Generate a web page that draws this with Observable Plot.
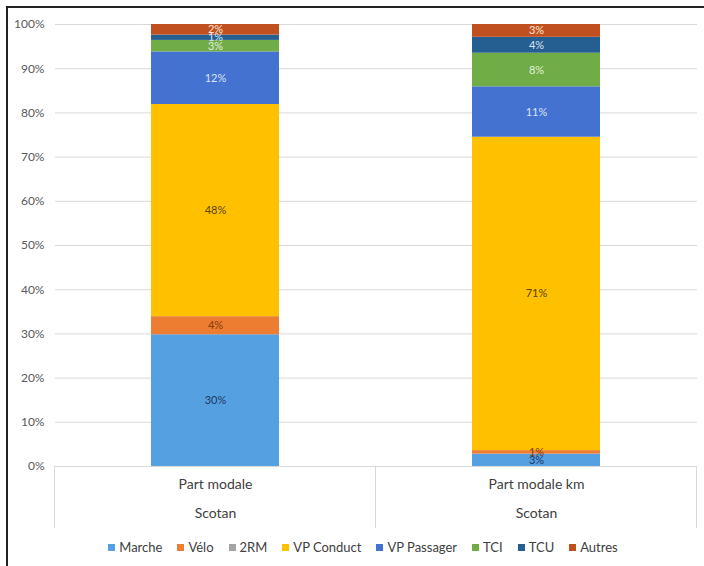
<!DOCTYPE html>
<html>
<head>
<meta charset="utf-8">
<script src="https://cdn.jsdelivr.net/npm/d3@7"></script>
<script src="https://cdn.jsdelivr.net/npm/@observablehq/plot@0.6"></script>
<style>
  body { margin: 0; background: #fff; }
  #wrap { position: relative; width: 704px; height: 566px; overflow: hidden; font-family: Lato, "Open Sans", sans-serif; }
  #frame { position: absolute; left: 6px; top: 6px; right: 0; bottom: 0; border-left: 2px solid #222; border-top: 2px solid #222; pointer-events: none; }
  #legend { position: absolute; left: 0; top: 539px; width: 704px; display: flex; justify-content: center; gap: 15px; font-size: 13px; color: #404040; padding-left: 22px; box-sizing: border-box; }
  #legend span.item { display: flex; align-items: center; gap: 4px; }
  #legend span.sw { display: inline-block; width: 7px; height: 7px; }
</style>
</head>
<body>
<div id="wrap">
  <div id="chart"></div>
  <div id="legend"></div>
  <div id="frame"></div>
</div>
<script>
const categories = ["Part modale", "Part modale km"];
const group = "Scotan";
const modes = ["Marche", "Vélo", "2RM", "VP Conduct", "VP Passager", "TCI", "TCU", "Autres"];
const colors = ["#55a0e0", "#ed7d31", "#a5a5a5", "#ffc000", "#4472d0", "#70ad47", "#255e91", "#c0501f"];
const labelColors = ["#1f3864", "#843c0c", "#404040", "#5a4300", "#dae3f3", "#e2efda", "#dae3f3", "#fbe5d6"];
const partModale = [29.8, 4.1, 0.0, 48.0, 11.9, 2.6, 1.2, 2.4];
const partModaleKm = [2.8, 0.8, 0.0, 70.9, 11.4, 7.6, 3.6, 2.9];
const yTicks = [0, 10, 20, 30, 40, 50, 60, 70, 80, 90, 100];

const series = [partModale, partModaleKm];
const data = [];
categories.forEach((c, ci) => modes.forEach((m, mi) => data.push({cat: c, mode: m, mi, value: series[ci][mi]})));

const chart = Plot.plot({
  width: 704,
  height: 530,
  marginLeft: 55,
  marginRight: 7,
  marginTop: 24,
  marginBottom: 64,
  style: {fontFamily: "Lato, 'Open Sans', sans-serif", background: "transparent"},
  x: {domain: categories, paddingInner: 0.6, paddingOuter: 0.3, label: null},
  y: {domain: [0, 100], label: null},
  color: {type: "identity"},
  marks: [
    Plot.gridY(yTicks, {stroke: "#d9d9d9", strokeOpacity: 1}),
    Plot.axisY(yTicks, {tickSize: 0, tickPadding: 11, tickFormat: d => d + "%", fontSize: 12, fill: "#595959", label: null}),
    Plot.barY(data, {x: "cat", y: "value", fill: d => colors[d.mi], order: null}),
    Plot.text(data, Plot.stackY({x: "cat", y: "value", order: null, text: d => d.value >= 0.5 ? Math.round(d.value) + "%" : "", fill: d => labelColors[d.mi], fontSize: 11})),
    Plot.ruleY([0], {stroke: "#d9d9d9"}),
    Plot.axisX({tickSize: 0, tickPadding: 13, fontSize: 14, fill: "#404040", label: null}),
    Plot.text(categories, {x: d => d, text: () => group, frameAnchor: "bottom", dy: 51, fontSize: 14, fill: "#404040"})
  ]
});
document.getElementById("chart").appendChild(chart);

// category separators drawn from the x band scale
const xs = chart.scale("x");
const bw = xs.bandwidth, step = xs.step;
const bounds = categories.map(c => xs.apply(c) - (step - bw) / 2);
bounds.push(xs.apply(categories[categories.length - 1]) + bw + (step - bw) / 2);
const yS = chart.scale("y");
const y0 = yS.apply(0);
const svg = d3.select(chart);
svg.append("g").selectAll("line").data(bounds).join("line")
  .attr("x1", d => d).attr("x2", d => d)
  .attr("y1", y0).attr("y2", y0 + 62)
  .attr("stroke", "#d9d9d9");

const legend = d3.select("#legend");
modes.forEach((m, i) => {
  const it = legend.append("span").attr("class", "item");
  it.append("span").attr("class", "sw").style("background", colors[i]);
  it.append("span").text(m);
});
</script>
</body>
</html>
